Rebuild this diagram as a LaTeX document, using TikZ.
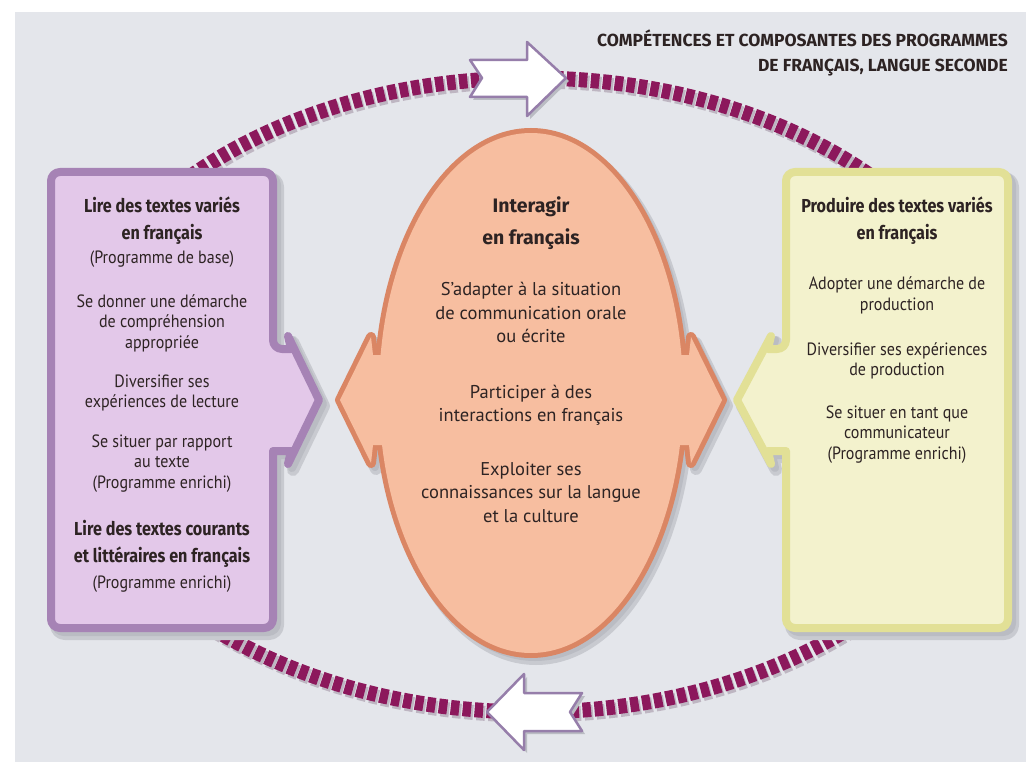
\documentclass[tikz,border=0pt]{standalone}
\usepackage{fontspec}
\setmainfont{PT Sans}
\newfontfamily\headfont{Fira Sans}
\newfontfamily\headnarrow{Fira Sans}[FakeStretch=0.86]
\newfontfamily\narrowfont{PT Sans}[FakeStretch=0.9]
\newcommand\stk[1]{\begin{tabular}[t]{@{}c@{}}#1\end{tabular}}
\newcommand\rstk[1]{\begin{tabular}[t]{@{}r@{}}#1\end{tabular}}
\definecolor{bggray}{RGB}{228,230,235}
\definecolor{shadowc}{RGB}{200,202,208}
\definecolor{shadowd}{RGB}{186,188,195}
\definecolor{ringc}{RGB}{140,24,92}
\definecolor{ringsh}{RGB}{190,182,194}
\definecolor{purpfill}{RGB}{227,200,233}
\definecolor{purpline}{RGB}{166,131,181}
\definecolor{yelfill}{RGB}{243,242,205}
\definecolor{yelline}{RGB}{226,224,150}
\definecolor{orfill}{RGB}{247,190,160}
\definecolor{orline}{RGB}{218,134,100}
\definecolor{arrline}{RGB}{150,126,170}
\definecolor{txt}{RGB}{45,35,35}
\def\pathL{(51,400) [rounded corners=9pt] -- (51,172) -- (273,172) -- (273,349) [sharp corners] -- (291,349) -- (288,336) -- (319,400) -- (288,464) -- (291,451) -- (273,451) [rounded corners=9pt] -- (273,628) -- (51,628) -- cycle}
\def\pathR{(1008,400) [rounded corners=9pt] -- (1008,172) -- (786,172) -- (786,349) [sharp corners] -- (768,349) -- (771,336) -- (737,400) -- (771,464) -- (768,451) -- (786,451) [rounded corners=9pt] -- (786,628) -- (1008,628) -- cycle}
\def\pathO{(531,393) ellipse [x radius=152, y radius=260]}
\def\pathOL{(400,355) -- (373,355) -- (371,337) -- (340,400) -- (371,463) -- (373,445) -- (400,445) -- cycle}
\def\pathOR{(662,355) -- (689,355) -- (691,337) -- (722,400) -- (691,463) -- (689,445) -- (662,445) -- cycle}
\def\pathTop{(470,60) -- (527,60) -- (527,42) -- (566,78) -- (527,116) -- (527,97) -- (470,97) -- (482,78) -- cycle}
\def\pathBot{(582,693) -- (524,693) -- (524,674) -- (487,712) -- (524,750) -- (524,731) -- (582,731) -- (570,712) -- cycle}
\tikzset{
  ring/.style={draw=ringc, line width=15pt, dash pattern=on 8.5pt off 3.5pt},
  whitearrow/.style={fill=white, draw=arrline, line width=2.5pt, line join=round},
  boxL/.style={fill=purpfill, draw=purpline, line width=8pt, line join=round},
  boxR/.style={fill=yelfill, draw=yelline, line width=8pt, line join=round},
  orborder/.style={draw=orline, line width=10pt, line join=round},
  txtnode/.style={anchor=base, inner sep=0pt, text=txt},
  titlef/.style={font=\headfont\bfseries\fontsize{17.5}{25}\selectfont},
  sidehead/.style={font=\headnarrow\bfseries\fontsize{18.8}{27}\selectfont},
  sidebody/.style={font=\narrowfont\fontsize{17.8}{20.5}\selectfont},
  cenhead/.style={font=\headfont\bfseries\fontsize{19.5}{32}\selectfont},
  cenbody/.style={font=\rmfamily\fontsize{18.5}{23.5}\selectfont},
}
\begin{document}
\begin{tikzpicture}[x=1pt,y=-1pt]
\useasboundingbox (0,0) rectangle (1026,762);
\fill[white] (0,0) rectangle (1026,762);
\fill[bggray] (15,12) rectangle (1026,762);
% ring
\draw[ring, draw=ringsh] (533,398) ellipse [x radius=470, y radius=317];
\draw[ring] (531,395) ellipse [x radius=470, y radius=317];
% white arrows
\begin{scope}[shift={(3,3)}]
\fill[shadowd] \pathTop;
\fill[shadowd] \pathBot;
\end{scope}
\draw[whitearrow] \pathTop;
\draw[whitearrow] \pathBot;
% box shadows
\begin{scope}[shift={(5,6)}]
\draw[shadowc, fill=shadowc, line width=12pt, line join=round] \pathL;
\draw[shadowc, fill=shadowc, line width=12pt, line join=round] \pathR;
\draw[shadowc, fill=shadowc, line width=12pt, line join=round] \pathO;
\draw[shadowc, fill=shadowc, line width=12pt, line join=round] \pathOL;
\draw[shadowc, fill=shadowc, line width=12pt, line join=round] \pathOR;
\end{scope}
\begin{scope}[shift={(4,4)}]
\draw[shadowd, fill=shadowd, line width=8pt, line join=round] \pathL;
\draw[shadowd, fill=shadowd, line width=8pt, line join=round] \pathR;
\draw[shadowd, fill=shadowd, line width=8pt, line join=round] \pathO;
\draw[shadowd, fill=shadowd, line width=8pt, line join=round] \pathOL;
\draw[shadowd, fill=shadowd, line width=8pt, line join=round] \pathOR;
\end{scope}
% boxes
\draw[boxL] \pathL;
\draw[boxR] \pathR;
% centre shape
\draw[orborder] \pathO;
\draw[orborder] \pathOL;
\draw[orborder] \pathOR;
\fill[orfill] \pathO;
\fill[orfill] \pathOL;
\fill[orfill] \pathOR;
% title
\node[txtnode, anchor=base east, titlef] (title) at (1008,47) {\rstk{COMPÉTENCES ET COMPOSANTES DES PROGRAMMES\\DE FRANÇAIS, LANGUE SECONDE}};
% left box text
\node[txtnode, sidehead] (l1) at (162,213) {\stk{Lire des textes variés\\en français}};
\node[txtnode, sidebody] (l2) at (162,264) {\stk{(Programme de base)}};
\node[txtnode, sidebody] (l3) at (162,307) {\stk{Se donner une démarche\\de compréhension\\appropriée}};
\node[txtnode, sidebody] (l4) at (162,387) {\stk{Diversifier ses\\expériences de lecture}};
\node[txtnode, sidebody] (l5) at (162,447) {\stk{Se situer par rapport\\au texte\\(Programme enrichi)}};
\node[txtnode, sidehead] (l6) at (162,535) {\stk{Lire des textes courants\\et littéraires en français}};
\node[txtnode, sidebody] (l7) at (162,588) {\stk{(Programme enrichi)}};
% right box text
\node[txtnode, sidehead] (r1) at (897,213) {\stk{Produire des textes variés\\en français}};
\node[txtnode, sidebody] (r2) at (897,290) {\stk{Adopter une démarche de\\production}};
\node[txtnode, sidebody] (r3) at (897,355) {\stk{Diversifier ses expériences\\de production}};
\node[txtnode, sidebody] (r4) at (897,418) {\stk{Se situer en tant que\\communicateur\\(Programme enrichi)}};
% centre text
\node[txtnode, cenhead] (c1) at (531,213) {\stk{Interagir\\en français}};
\node[txtnode, cenbody] (c2) at (531,296) {\stk{S’adapter à la situation\\de communication orale\\ou écrite}};
\node[txtnode, cenbody] (c3) at (531,398) {\stk{Participer à des\\interactions en français}};
\node[txtnode, cenbody] (c4) at (531,475) {\stk{Exploiter ses\\connaissances sur la langue\\et la culture}};
\end{tikzpicture}
\end{document}
